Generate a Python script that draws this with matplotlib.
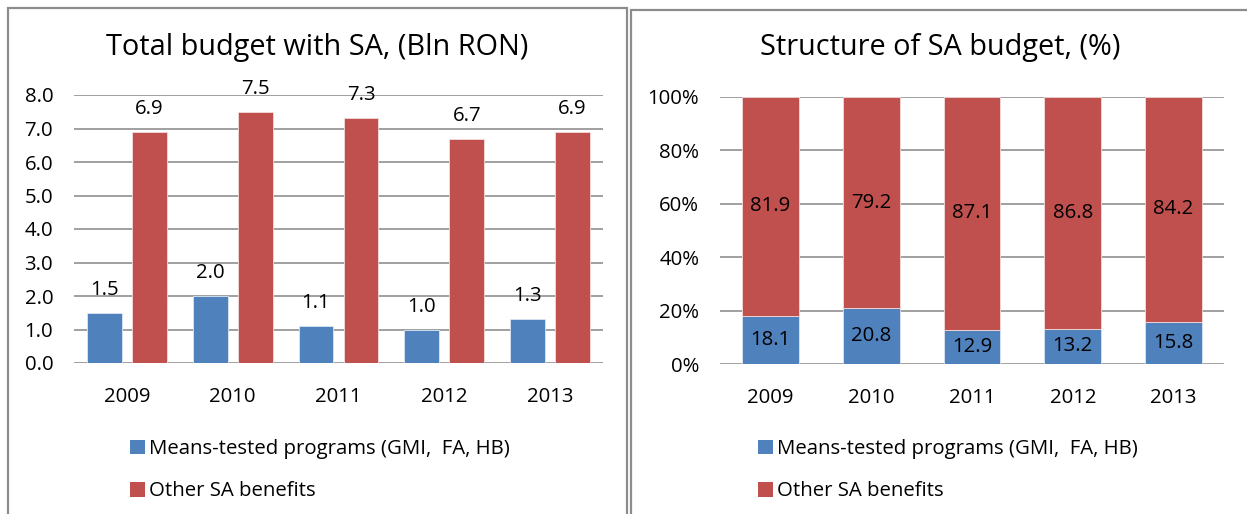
import matplotlib
matplotlib.use('Agg')
import matplotlib.pyplot as plt
from matplotlib.patches import Rectangle, Patch
import numpy as np

years = ['2009', '2010', '2011', '2012', '2013']
means_tested_bln = [1.5, 2.0, 1.1, 1.0, 1.3]
other_sa_bln = [6.9, 7.5, 7.3, 6.7, 6.9]
means_tested_pct = [18.1, 20.8, 12.9, 13.2, 15.8]
other_sa_pct = [81.9, 79.2, 87.1, 86.8, 84.2]
legend_labels = ['Means-tested programs (GMI,  FA, HB)', 'Other SA benefits']

BLUE = '#4F81BD'
RED = '#C0504D'
GRID = '#868686'
FS = 14.7

plt.rcParams['font.family'] = ['Open Sans', 'DejaVu Sans']

W, H = 1247, 514
fig = plt.figure(figsize=(W / 100, H / 100), dpi=100)


def px_rect(x0, y0, x1, y1):
    """pixel box (top-left origin) -> figure fraction [l, b, w, h]"""
    return [x0 / W, 1 - y1 / H, (x1 - x0) / W, (y1 - y0) / H]


# panel frames
fig.patches.append(Rectangle((8 / W, -0.01), (627 - 8) / W, 1.01 - 8 / H,
                             transform=fig.transFigure, fill=False,
                             edgecolor='#8c8c8c', linewidth=1.6))
fig.patches.append(Rectangle((631 / W, -0.01), (1250 - 631) / W, 1.01 - 10 / H,
                             transform=fig.transFigure, fill=False,
                             edgecolor='#8c8c8c', linewidth=1.6))


def style_axes(ax, ylim, yticks, ylabels):
    ax.set_ylim(*ylim)
    ax.set_yticks(yticks)
    ax.set_yticklabels(ylabels, fontsize=FS)
    ax.set_xlim(-0.5, 4.5)
    ax.set_xticks(np.arange(len(years)))
    ax.set_xticklabels(years, fontsize=FS)
    ax.tick_params(axis='y', length=0, pad=15)
    ax.tick_params(axis='x', length=0, pad=17)
    for s in ax.spines.values():
        s.set_visible(False)
    ax.yaxis.grid(True, color=GRID, linewidth=1.1)
    ax.set_axisbelow(True)


# left chart
x = np.arange(len(years))
ax1 = fig.add_axes(px_rect(74, 95, 603, 363))
b1 = ax1.bar(x - 0.213, means_tested_bln, 0.33, color=BLUE, edgecolor='#dce6f2', linewidth=0.6)
b2 = ax1.bar(x + 0.213, other_sa_bln, 0.33, color=RED, edgecolor='#f2dcdb', linewidth=0.6)
style_axes(ax1, (0, 8), np.arange(0, 9), ['%.1f' % v for v in range(9)])
for bars, vals in ((b1, means_tested_bln), (b2, other_sa_bln)):
    for r, v in zip(bars, vals):
        ax1.annotate('%.1f' % v, (r.get_x() + r.get_width() / 2, v),
                     xytext=(0, 23), textcoords='offset pixels',
                     ha='center', va='center', fontsize=FS, annotation_clip=False)
fig.text(317 / W, 1 - 48 / H, 'Total budget with SA, (Bln RON)', ha='center', va='center', fontsize=20.8)

# right chart
ax2 = fig.add_axes(px_rect(720, 97, 1224, 364))
c1 = ax2.bar(x, means_tested_pct, 0.565, color=BLUE, edgecolor='#dce6f2', linewidth=0.6)
c2 = ax2.bar(x, other_sa_pct, 0.565, bottom=means_tested_pct, color=RED, edgecolor='#f2dcdb', linewidth=0.6)
style_axes(ax2, (0, 100), np.arange(0, 101, 20), ['%d%%' % v for v in range(0, 101, 20)])
for i in range(len(years)):
    ax2.text(i, means_tested_pct[i] / 2, '%.1f' % means_tested_pct[i], ha='center', va='center', fontsize=FS)
    ax2.text(i, means_tested_pct[i] + other_sa_pct[i] / 2, '%.1f' % other_sa_pct[i], ha='center', va='center', fontsize=FS)
fig.text(940 / W, 1 - 48 / H, 'Structure of SA budget, (%)', ha='center', va='center', fontsize=20.8)

# legends
handles = [Patch(facecolor=BLUE), Patch(facecolor=RED)]
for lx in (130, 758):
    fig.legend(handles, legend_labels, loc='upper left',
               bbox_to_anchor=(lx / W, 1 - 439 / H), frameon=False, fontsize=FS,
               borderpad=0, borderaxespad=0, handlelength=0.72, handleheight=0.72,
               handletextpad=0.2, labelspacing=1.1)

fig.savefig('out.png', dpi=100)
